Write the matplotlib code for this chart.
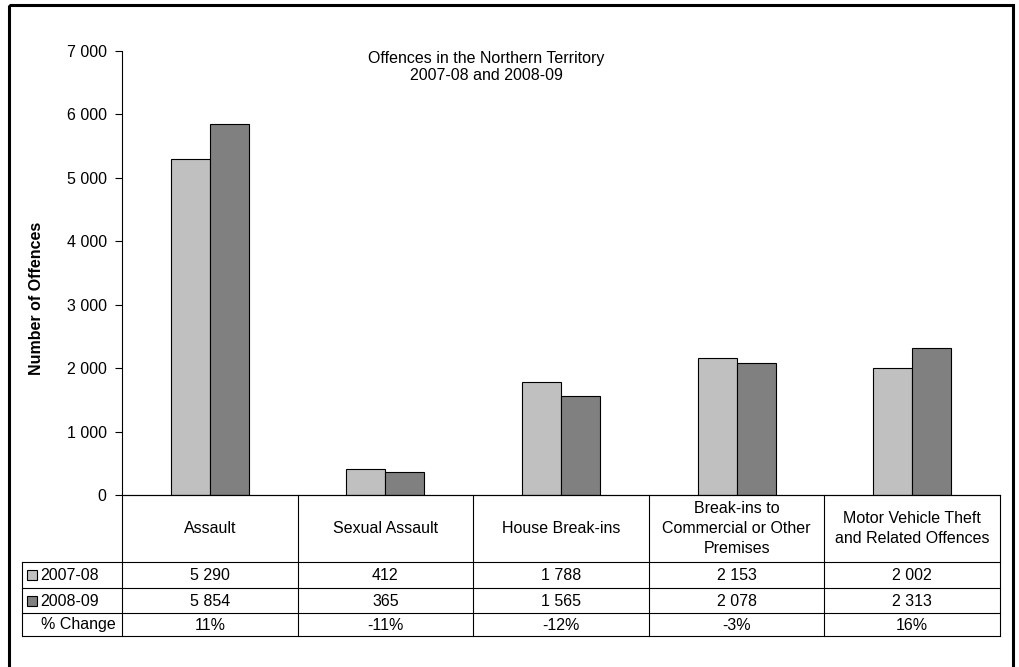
import matplotlib
matplotlib.use("Agg")
import matplotlib.pyplot as plt
from matplotlib.patches import Rectangle
import numpy as np

plt.rcParams['font.family'] = ['Liberation Sans', 'DejaVu Sans']

categories = ["Assault", "Sexual Assault", "House Break-ins",
              "Break-ins to\nCommercial or Other\nPremises",
              "Motor Vehicle Theft\nand Related Offences"]
series_names = ["2007-08", "2008-09"]
values_0708 = [5290, 412, 1788, 2153, 2002]
values_0809 = [5854, 365, 1565, 2078, 2313]
pct_change = ["11%", "-11%", "-12%", "-3%", "16%"]
yticks = [0, 1000, 2000, 3000, 4000, 5000, 6000, 7000]
ytick_labels = ["0", "1 000", "2 000", "3 000", "4 000", "5 000", "6 000", "7 000"]

def fmt(v):
    return f"{v:,}".replace(",", " ")

colors = ["#c0c0c0", "#808080"]
FS = 11.5

W, H = 1019, 667
fig = plt.figure(figsize=(W / 100, H / 100), dpi=100)

def fx(px):
    return px / W

def fy(py):
    return 1 - py / H

# main axes
ax_l, ax_r, ax_t, ax_b = 122, 1000, 51, 495
ax = fig.add_axes([fx(ax_l), fy(ax_b), fx(ax_r - ax_l), (ax_b - ax_t) / H])
n = len(categories)
x = np.arange(n)
bw = 0.222
ax.bar(x - bw / 2, values_0708, bw, color=colors[0], edgecolor="black", linewidth=0.8)
ax.bar(x + bw / 2, values_0809, bw, color=colors[1], edgecolor="black", linewidth=0.8)
ax.set_xlim(-0.5, n - 0.5)
ax.set_ylim(0, 7000)
ax.set_yticks(yticks)
ax.set_yticklabels(ytick_labels, fontsize=FS)
ax.set_xticks([])
for s in ["top", "right"]:
    ax.spines[s].set_visible(False)
ax.spines["left"].set_linewidth(0.8)
ax.spines["bottom"].set_linewidth(0.8)
ax.tick_params(axis="y", length=5, width=0.8, pad=6)
ax.patch.set_alpha(0)

fig.text(fx(37), fy(298), "Number of Offences", rotation=90, ha="center", va="center",
         fontsize=FS, fontweight="bold")
fig.text(fx(486), fy(67), "Offences in the Northern Territory\n2007-08 and 2008-09",
         ha="center", va="center", fontsize=FS, linespacing=1.2)

# data table drawn in a pixel-coordinate overlay axes
tab = fig.add_axes([0, 0, 1, 1])
tab.set_xlim(0, W)
tab.set_ylim(H, 0)
tab.axis("off")

col_w = (ax_r - ax_l) / n
col_x = [ax_l + i * col_w for i in range(n + 1)]
row_y = [495, 562, 588, 613, 636]
lbl_l = 22
lw = 0.8
tab.plot([ax_l, ax_r], [row_y[0], row_y[0]], color="black", lw=lw)
for yy in row_y[1:]:
    tab.plot([lbl_l, ax_r], [yy, yy], color="black", lw=lw)
for xx in col_x:
    tab.plot([xx, xx], [row_y[0], row_y[-1]], color="black", lw=lw)
tab.plot([lbl_l, lbl_l], [row_y[1], row_y[-1]], color="black", lw=lw)

for i, c in enumerate(categories):
    cx = (col_x[i] + col_x[i + 1]) / 2
    tab.text(cx, (row_y[0] + row_y[1]) / 2, c, ha="center", va="center",
             fontsize=FS, linespacing=1.45)
    tab.text(cx, (row_y[1] + row_y[2]) / 2 + 0.5, fmt(values_0708[i]), ha="center", va="center", fontsize=FS)
    tab.text(cx, (row_y[2] + row_y[3]) / 2 + 0.5, fmt(values_0809[i]), ha="center", va="center", fontsize=FS)
    tab.text(cx, (row_y[3] + row_y[4]) / 2 + 0.5, pct_change[i], ha="center", va="center", fontsize=FS)

for k, name in enumerate(series_names):
    cy = (row_y[1 + k] + row_y[2 + k]) / 2
    tab.add_patch(Rectangle((27, cy - 5), 10, 10, facecolor=colors[k], edgecolor="black", lw=0.8))
    tab.text(40, cy + 0.5, name, ha="left", va="center", fontsize=FS)
tab.text(116, (row_y[3] + row_y[4]) / 2 + 0.5, "% Change", ha="right", va="center", fontsize=FS)

# outer border
tab.add_patch(Rectangle((9, 5), 1004, 700, facecolor="none", edgecolor="black", lw=2.2, clip_on=False))

fig.savefig("out.png", dpi=100)
